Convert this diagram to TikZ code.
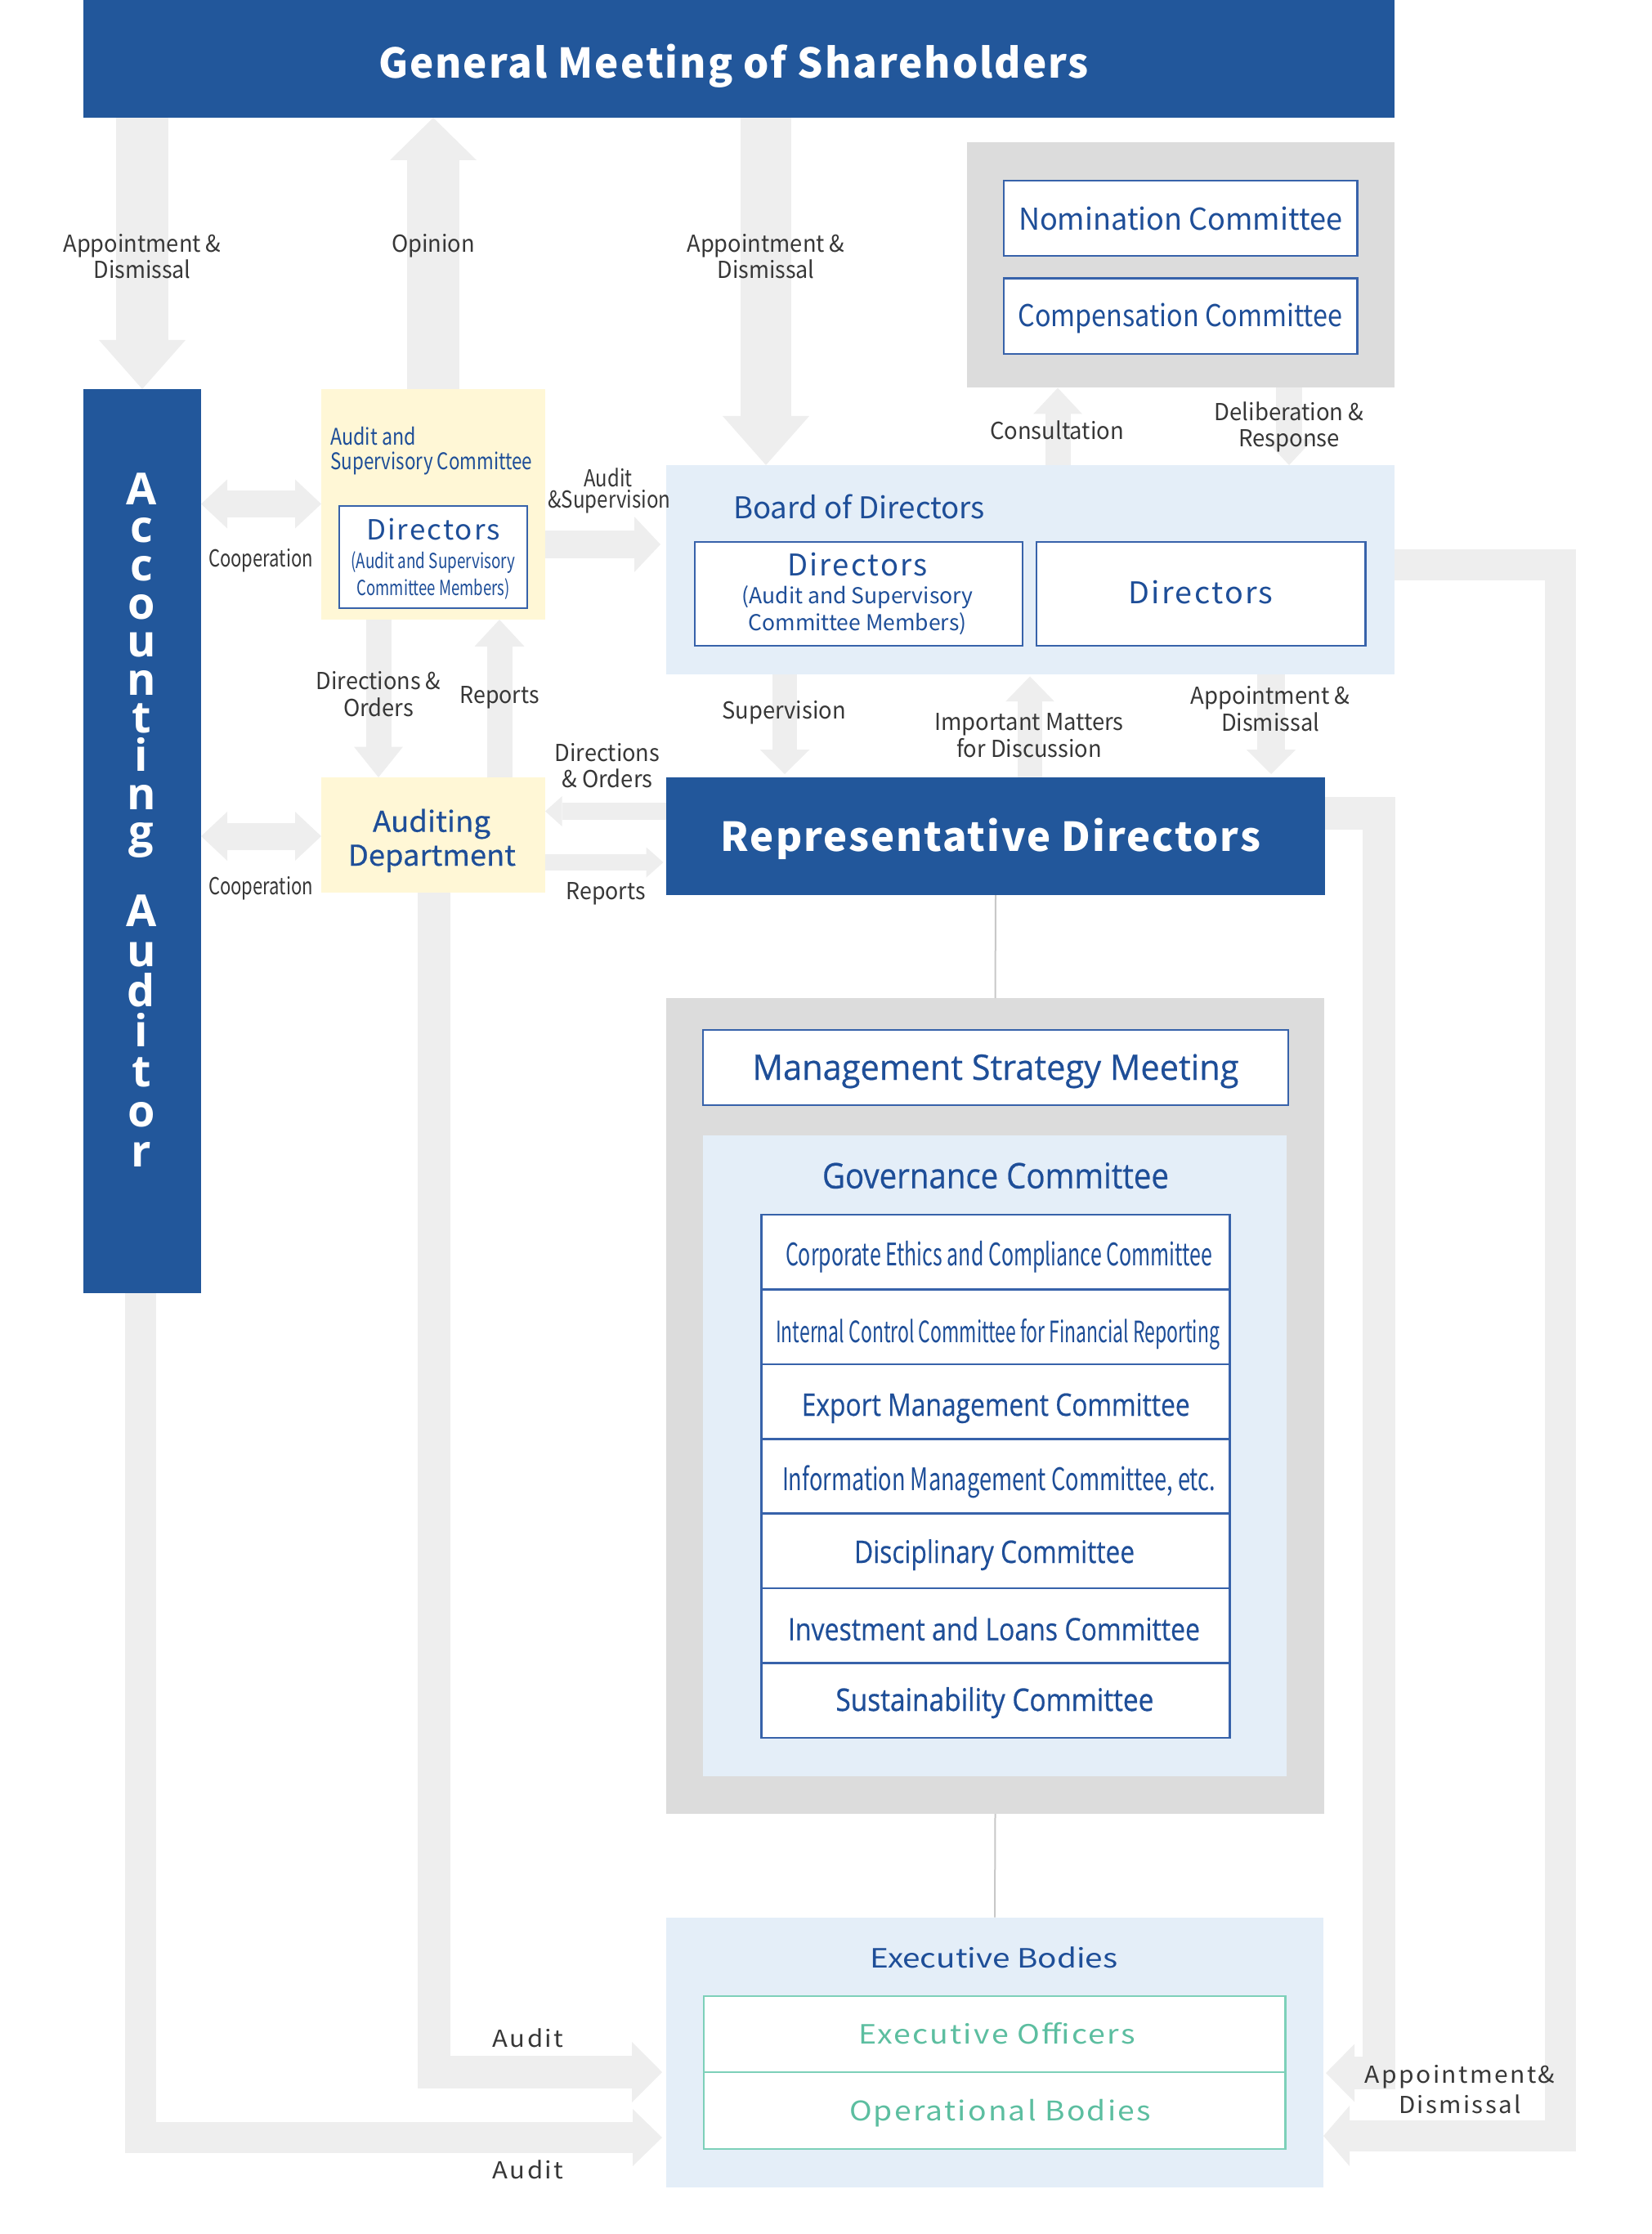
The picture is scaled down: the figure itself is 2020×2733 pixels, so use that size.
\documentclass[tikz,border=0pt]{standalone}
\usepackage{fontspec}
\usepackage{graphicx}
\setmainfont{Noto Sans CJK JP}
\newfontfamily\osf{Open Sans}
\usetikzlibrary{arrows.meta,fit}
\newdimen\pxu
\pxu=0.5pt
\newcommand\fw[2]{\resizebox{#1\pxu}{\height}{#2}}
\newcommand\fsz[1]{\fontsize{#1pt}{#1pt}\selectfont}
\definecolor{navy}{RGB}{34,87,155}
\definecolor{tblue}{RGB}{30,78,152}
\definecolor{bblue}{RGB}{55,98,170}
\definecolor{lblue}{RGB}{228,238,248}
\definecolor{ylw}{RGB}{255,247,214}
\definecolor{gbox}{RGB}{220,220,220}
\definecolor{agray}{RGB}{238,238,238}
\definecolor{lgray}{RGB}{55,55,55}
\definecolor{tealt}{RGB}{92,190,160}
\definecolor{tealb}{RGB}{125,208,185}
\definecolor{cline}{RGB}{200,200,200}
\begin{document}
\begin{tikzpicture}[x=0.5pt,y=-0.5pt,
  box/.style={inner sep=0pt, outer sep=0pt},
  navyb/.style={box, fill=navy},
  wbox/.style={box, fill=white, draw=bblue, line width=1.3pt},
  tbox/.style={box, fill=white, draw=tealb, line width=1.3pt},
  tx/.style={inner sep=0pt, outer sep=0pt, anchor=base},
  lbl/.style={tx, text=lgray, font=\fsz{14.3}},
  btx/.style={tx, text=tblue},
  blk/.style n args={3}{draw=agray, line width=#1, line join=miter,
    -{Triangle[length=#2 0 0, width=#3 0 0, line width=0pt 0 0]}},
  dblk/.style n args={3}{draw=agray, line width=#1,
    {Triangle[length=#2 0 0, width=#3 0 0, line width=0pt 0 0]}-{Triangle[length=#2 0 0, width=#3 0 0, line width=0pt 0 0]}},
  conn/.style={draw=cline, line width=1pt}]
\useasboundingbox (0,0) rectangle (2020,2733);
% ---------- boxes
\node[navyb, fit={(102,0) (1706,144)}] (gm) {};
\node[box, fill=gbox, fit={(1183,174) (1706,474.5)}] (ncg) {};
\node[wbox, fit={(1228,221) (1660.6,313)}] (nom) {};
\node[wbox, fit={(1228,340.6) (1660.6,433)}] (comp) {};
\node[navyb, fit={(102,476) (246,1582)}] (acc) {};
\node[box, fill=ylw, fit={(393,476) (667,758)}] (audc) {};
\node[wbox, fit={(415,619) (645,744)}] (audcd) {};
\node[box, fill=ylw, fit={(393,951) (667,1092)}] (audd) {};
\node[box, fill=lblue, fit={(815,569) (1706,825)}] (board) {};
\node[wbox, fit={(850,663) (1251,790)}] (bd1) {};
\node[wbox, fit={(1268,663) (1670.5,790)}] (bd2) {};
\node[navyb, fit={(815,951) (1621,1095)}] (rep) {};
\node[box, fill=gbox, fit={(815,1221) (1620,2219)}] (mgmt) {};
\node[wbox, fit={(860,1260) (1576,1352)}] (msm) {};
\node[box, fill=lblue, fit={(860,1389) (1574,2172.5)}] (gov) {};
\foreach \k in {0,...,6} {
  \pgfmathsetmacro\ya{1486+91.4*\k}
  \pgfmathsetmacro\yb{1486+91.4*(\k+1)}
  \node[wbox, fit={(931.7,\ya) (1504.7,\yb)}] (row\k) {};
}
\node[box, fill=lblue, fit={(815,2345.5) (1619,2676)}] (exec) {};
\node[tbox, fit={(861,2442) (1572.3,2535)}] (eo) {};
\node[tbox, fit={(861,2535) (1572.3,2629)}] (ob) {};
% ---------- helper coordinates
\coordinate (xA) at (174,0);
\coordinate (xO) at (530,0);
\coordinate (xB) at (937,0);
\coordinate (xC) at (1294,0);
\coordinate (xD) at (1577,0);
\coordinate (xDO) at (463,0);
\coordinate (xRp) at (611,0);
\coordinate (xS) at (960,0);
\coordinate (xI) at (1260,0);
\coordinate (xR) at (1555,0);
\coordinate (xAu) at (530.5,0);
\coordinate (xAc) at (171.5,0);
\coordinate (xL1) at (1909,0);
\coordinate (xL2) at (1686.5,0);
\coordinate (yC1) at (0,616.5);
\coordinate (yC2) at (0,1023);
\coordinate (yAS) at (0,666);
\coordinate (yDO) at (0,992.5);
\coordinate (yRp) at (0,1055);
\coordinate (yAu1) at (0,2535);
\coordinate (yAu2) at (0,2615);
\coordinate (yL1) at (0,691);
\coordinate (yL2) at (0,2613);
\coordinate (yL3) at (0,995);
\coordinate (yL4) at (0,2536);
% ---------- block arrows
\draw[blk={32pt}{30pt}{53pt}] (gm.south -| xA) -- (acc.north -| xA);
\draw[blk={32pt}{26pt}{53pt}] (audc.north -| xO) -- (gm.south -| xO);
\draw[blk={31pt}{30pt}{53pt}] (gm.south -| xB) -- (board.north -| xB);
\draw[blk={15.5pt}{16pt}{30pt}] (board.north -| xC) -- (ncg.south -| xC);
\draw[blk={16pt}{16pt}{30pt}] (ncg.south -| xD) -- (board.north -| xD);
\draw[dblk={16.5pt}{16pt}{30pt}] (acc.east |- yC1) -- (audc.west |- yC1);
\draw[dblk={16.5pt}{16pt}{30pt}] (acc.east |- yC2) -- (audd.west |- yC2);
\draw[blk={17pt}{16pt}{34pt}, shorten >=3.5pt] (audc.east |- yAS) -- (board.west |- yAS);
\draw[blk={15.5pt}{18.7pt}{30pt}] (audc.south -| xDO) -- (audd.north -| xDO);
\draw[blk={15.5pt}{16.4pt}{30.5pt}] (audd.north -| xRp) -- (audc.south -| xRp);
\draw[blk={10.5pt}{10.3pt}{18.5pt}] (rep.west |- yDO) -- (audd.east |- yDO);
\draw[blk={10.4pt}{10.4pt}{18.5pt}, shorten >=1.75pt] (audd.east |- yRp) -- (rep.west |- yRp);
\draw[blk={15.4pt}{15pt}{30.5pt}, shorten >=2pt] (board.south -| xS) -- (rep.north -| xS);
\draw[blk={15.3pt}{15.3pt}{29.8pt}, shorten >=1.25pt] (rep.north -| xI) -- (board.south -| xI);
\draw[blk={16.7pt}{15pt}{30.3pt}, shorten >=2pt] (board.south -| xR) -- (rep.north -| xR);
\draw[blk={20pt}{18.4pt}{37pt}, shorten >=2.5pt] (audd.south -| xAu) -- (xAu |- yAu1) -- (exec.west |- yAu1);
\draw[blk={19pt}{18pt}{35pt}, shorten >=2.5pt] (acc.south -| xAc) -- (xAc |- yAu2) -- (exec.west |- yAu2);
\draw[blk={19pt}{16pt}{37pt}] (board.east |- yL1) -- (xL1 |- yL1) -- (xL1 |- yL2) -- (exec.east |- yL2);
\draw[blk={20pt}{17.5pt}{35.5pt}, shorten >=1.5pt] (rep.east |- yL3) -- (xL2 |- yL3) -- (xL2 |- yL4) -- (exec.east |- yL4);
% ---------- thin connectors
\draw[conn] (rep.south) -- (mgmt.north);
\draw[conn] (mgmt.south) -- (exec.north);
% ---------- main titles
\node[tx, text=white, font=\fsz{25}\bfseries] (gmt) at (897.5,95.2) {\fw{869}{\addfontfeature{LetterSpace=4}General Meeting of Shareholders}};
\node[tx, text=white, font=\fsz{24.4}\bfseries] (rept) at (1212,1041.8) {\fw{660}{\addfontfeature{LetterSpace=4}Representative Directors}};
\node[inner sep=0pt, outer sep=0pt, text=white, align=center, anchor=center,
  font={\osf\bfseries\fontsize{27pt}{23.3pt}\selectfont\lineskiplimit=-100pt}] (acct) at (173,1003)
  {A\\c\\c\\o\\u\\n\\t\\i\\n\\g\\[25pt]A\\[1.2pt]u\\[1.2pt]d\\[1.2pt]i\\[1.2pt]t\\[1.2pt]o\\[1.2pt]r};
% ---------- blue texts
\node[btx, font=\fsz{18.4}] (nomt) at (1444,281.3) {\fw{396}{Nomination Committee}};
\node[btx, font=\fsz{18.4}] (compt) at (1444,400) {\fw{397}{Compensation Committee}};
\node[btx, anchor=base west, font=\fsz{14}] (audct1) at (404.4,545) {\fw{104.5}{Audit and}};
\node[btx, anchor=base west, font=\fsz{14}] (audct2) at (404.4,575) {\fw{246.7}{Supervisory Committee}};
\node[btx, font=\fsz{17}] (audcd1) at (530,661) {\fw{164}{\addfontfeature{LetterSpace=6}Directors}};
\node[btx, font=\fsz{12.7}] (audcd2) at (530,695) {\fw{201}{(Audit and Supervisory}};
\node[btx, font=\fsz{12.7}] (audcd3) at (530,728) {\fw{186.6}{Committee Members)}};
\node[btx, font=\fsz{17.5}] (auddt1) at (528,1017.6) {\fw{144}{\addfontfeature{FakeBold=0.4}Auditing}};
\node[btx, font=\fsz{17.5}] (auddt2) at (528.4,1059) {\fw{205}{\addfontfeature{FakeBold=0.4}Department}};
\node[btx, anchor=base west, font=\fsz{18.3}] (boardt) at (897,634.6) {\fw{308}{Board of Directors}};
\node[btx, font=\fsz{18.3}] (bd1t1) at (1049,704.3) {\fw{171}{\addfontfeature{LetterSpace=6}Directors}};
\node[btx, font=\fsz{13.4}] (bd1t2) at (1049,738) {\fw{283}{(Audit and Supervisory}};
\node[btx, font=\fsz{13.4}] (bd1t3) at (1049,771.4) {\fw{266.6}{Committee Members)}};
\node[btx, font=\fsz{18.3}] (bd2t) at (1469,738.2) {\fw{177}{\addfontfeature{LetterSpace=6}Directors}};
\node[btx, font=\osf\fsz{21.5}] (msmt) at (1218,1321) {\fw{595}{\addfontfeature{FakeBold=0.5}Management Strategy Meeting}};
\node[btx, font=\osf\fsz{21.5}] (govt) at (1218,1453.7) {\fw{424}{\addfontfeature{FakeBold=0.5}Governance Committee}};
\node[btx, font=\fsz{19}] (r0t) at (1222,1548) {\fw{522}{Corporate Ethics and Compliance Committee}};
\node[btx, font=\fsz{18}] (r1t) at (1220.7,1642) {\fw{543}{Internal Control Committee for Financial Reporting}};
\node[btx, font=\osf\fsz{19}] (r2t) at (1218.2,1732) {\fw{475}{\addfontfeature{FakeBold=0.4}Export Management Committee}};
\node[btx, font=\fsz{19}] (r3t) at (1222,1823) {\fw{530}{Information Management Committee, etc.}};
\node[btx, font=\osf\fsz{19}] (r4t) at (1216.6,1912) {\fw{343}{\addfontfeature{FakeBold=0.4}Disciplinary Committee}};
\node[btx, font=\osf\fsz{19}] (r5t) at (1216,2006.7) {\fw{504}{\addfontfeature{FakeBold=0.4}Investment and Loans Committee}};
\node[btx, font=\osf\fsz{19}] (r6t) at (1216.9,2093) {\fw{389}{\addfontfeature{FakeBold=0.8}Sustainability Committee}};
\node[btx, font=\fsz{16.2}] (exect) at (1216,2407.3) {\fw{303}{Executive Bodies}};
\node[tx, text=tealt, font=\fsz{16.2}] (eot) at (1219.5,2500.8) {\fw{339}{\addfontfeature{LetterSpace=6}Executive Officers}};
\node[tx, text=tealt, font=\fsz{16.5}] (obt) at (1223.5,2594) {\fw{369}{\addfontfeature{LetterSpace=6}Operational Bodies}};
% ---------- arrow labels
\node[lbl] (l1a) at (174,308.5) {\fw{193}{Appointment \&}};
\node[lbl] (l1b) at (174,340.6) {\fw{119}{Dismissal}};
\node[lbl] (l2) at (530,308.5) {\fw{102}{Opinion}};
\node[lbl] (l3a) at (937,308.5) {\fw{193}{Appointment \&}};
\node[lbl] (l3b) at (937,340.6) {\fw{119}{Dismissal}};
\node[lbl] (l4) at (1293,537.7) {\fw{164}{Consultation}};
\node[lbl] (l5a) at (1577,514.7) {\fw{183}{Deliberation \&}};
\node[lbl] (l5b) at (1577,547) {\fw{124}{Response}};
\node[lbl] (l6a) at (319,693) {\fw{128}{Cooperation}};
\node[lbl] (l6b) at (319,1094) {\fw{128}{Cooperation}};
\node[lbl] (l7a) at (744,596) {\fw{59}{Audit}};
\node[lbl] (l7b) at (745.5,621.7) {\fw{150}{\&Supervision}};
\node[lbl] (l8a) at (463,843.5) {\fw{152.6}{Directions \&}};
\node[lbl] (l8b) at (463,876.7) {\fw{86}{Orders}};
\node[lbl] (l9) at (611,860) {\fw{97}{Reports}};
\node[lbl] (l10a) at (743,931.4) {\fw{128.5}{Directions}};
\node[lbl] (l10b) at (743,963.7) {\fw{111}{\& Orders}};
\node[lbl] (l11) at (741,1100.5) {\fw{97}{Reports}};
\node[lbl] (l12) at (959,879.3) {\fw{151.5}{Supervision}};
\node[lbl] (l13a) at (1259,893.6) {\fw{231.5}{Important Matters}};
\node[lbl] (l13b) at (1259,926.4) {\fw{177.5}{for Discussion}};
\node[lbl] (l14a) at (1554,861.4) {\fw{195}{Appointment \&}};
\node[lbl] (l14b) at (1554,894.6) {\fw{120}{Dismissal}};
\node[lbl] (l15a) at (646,2504) {\fw{87}{\addfontfeature{LetterSpace=8}Audit}};
\node[lbl] (l15b) at (646,2665) {\fw{87}{\addfontfeature{LetterSpace=8}Audit}};
\node[lbl] (l16a) at (1786,2548.4) {\fw{232.5}{\addfontfeature{LetterSpace=8}Appointment\&}};
\node[lbl] (l16b) at (1786,2585.8) {\fw{149.5}{\addfontfeature{LetterSpace=8}Dismissal}};
\end{tikzpicture}
\end{document}
